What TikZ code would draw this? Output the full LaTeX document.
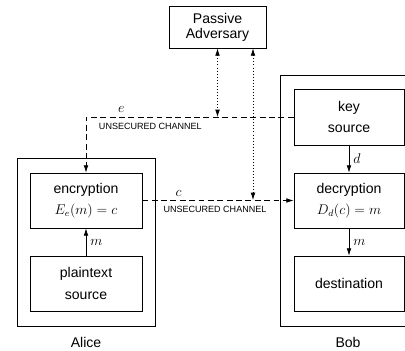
\documentclass[tikz,border=0pt]{standalone}
\usepackage{fontspec}
\setmainfont{Liberation Sans}
\usetikzlibrary{arrows.meta, positioning}

\begin{document}
\begin{tikzpicture}[
    x=0.03cm, y=-0.03cm,
    box/.style={draw, minimum width=3.36cm, minimum height=1.65cm, align=center, line width=0.6pt, font=\fontsize{12}{18.5}\selectfont},
    frame/.style={draw, line width=0.6pt},
    arrow/.style={-{Latex[length=2.2mm, width=1.4mm]}, line width=0.6pt},
    channel/.style={arrow, dash pattern=on 5pt off 3pt},
    tap/.style={{Latex[length=2.2mm, width=1.4mm]}-{Latex[length=2.2mm, width=1.4mm]}, line width=0.6pt, dotted},
    chanlabel/.style={font=\fontsize{7.7}{9}\selectfont},
    sym/.style={font=\large},
    party/.style={font=\fontsize{12}{14}\selectfont}
]
\useasboundingbox (0,0) rectangle (405,350);
\clip (0,0) rectangle (405,350);

% Adversary on top
\node[box, minimum width=2.91cm, minimum height=1.26cm, font=\fontsize{12}{13}\selectfont] (adv) at (217.5,27) {Passive\\Adversary};

% Alice side
\node[frame, minimum width=4.14cm, minimum height=5.04cm] (alice) at (86,242) {};
\node[box] (enc) at (86,200.5) {encryption\\$E_e(m) = c$};
\node[box] (plain) at (86,283.5) {plaintext\\source};
\node[party] (alicelabel) at (86,342) {Alice};

% Bob side
\node[frame, minimum width=4.11cm, minimum height=7.53cm] (bob) at (348.5,200.5) {};
\node[box, minimum width=3.3cm, minimum height=1.68cm] (key) at (349,117) {key\\source};
\node[box, minimum width=3.3cm] (dec) at (349,200.5) {decryption\\$D_d(c) = m$};
\node[box, minimum width=3.3cm] (dest) at (349,283.5) {destination};
\node[party] (boblabel) at (348,342) {Bob};

% Arrows inside the boxes
\draw[arrow] (plain) -- (enc) node[midway, right, sym] {$m$};
\draw[arrow] (key) -- (dec) node[midway, right, sym] {$d$};
\draw[arrow] (dec) -- (dest) node[midway, right, sym] {$m$};

% Unsecured channels
\coordinate (ecorner) at (86,117);
\draw[channel] (key.west) -- (ecorner)
    node[pos=0.83, above, sym] {$e$}
    node[pos=0.69, below=2pt, chanlabel] {UNSECURED CHANNEL}
    -- (enc.north);
\draw[channel] (enc.east) -- (dec.west)
    node[pos=0.24, above, sym] {$c$}
    node[pos=0.48, below=1pt, chanlabel] {UNSECURED CHANNEL};

% Eavesdropping
\coordinate (ctap) at (253,200);
\draw[tap] (adv.south) -- (adv.south |- ecorner);
\draw[tap] (ctap |- adv.south) -- (ctap);

\end{tikzpicture}
\end{document}
